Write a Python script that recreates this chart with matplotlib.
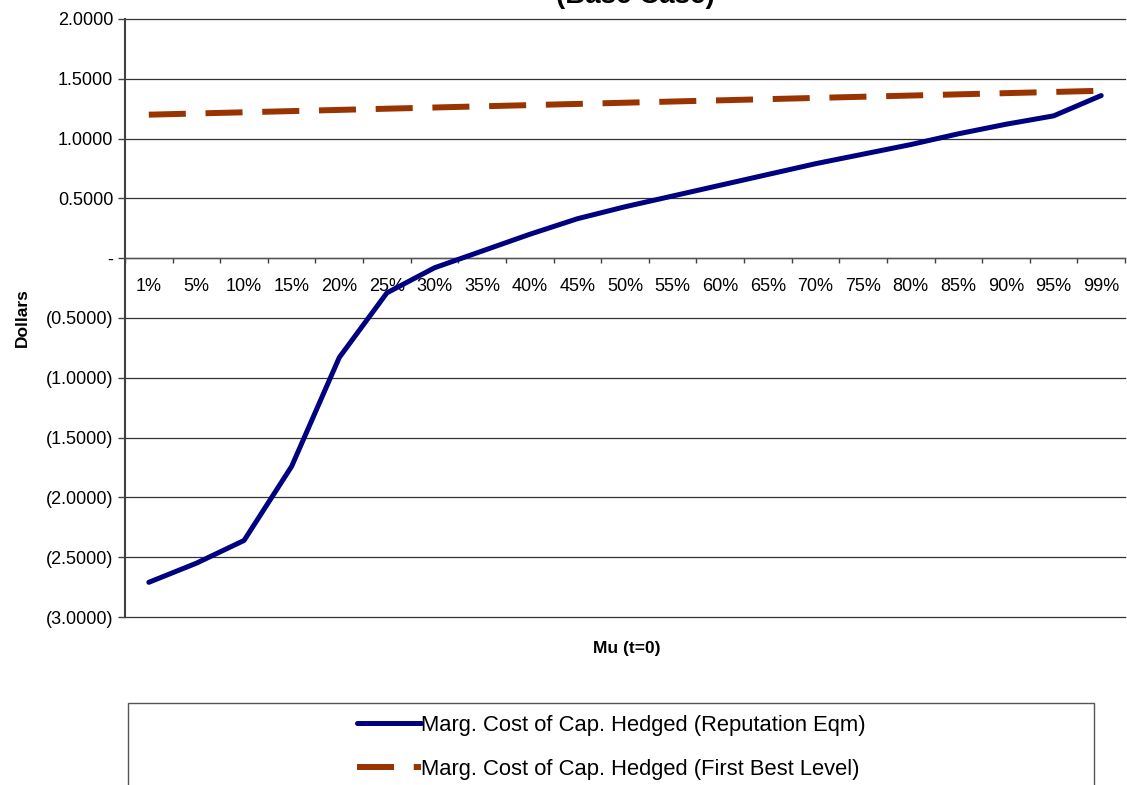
import numpy as np
import matplotlib.pyplot as plt
from matplotlib.ticker import FuncFormatter, FixedLocator
from matplotlib.patches import Rectangle

plt.rcParams['font.family'] = ['Liberation Sans', 'DejaVu Sans']

#%% data
mu_labels = ['1%', '5%', '10%', '15%', '20%', '25%', '30%', '35%', '40%', '45%', '50%',
             '55%', '60%', '65%', '70%', '75%', '80%', '85%', '90%', '95%', '99%']
cost_reputation = [-2.71, -2.55, -2.36, -1.74, -0.83, -0.29, -0.08, 0.06, 0.20, 0.33, 0.43,
                   0.52, 0.61, 0.70, 0.79, 0.87, 0.95, 1.04, 1.12, 1.19, 1.36]
cost_first_best = [1.20, 1.21, 1.22, 1.23, 1.24, 1.25, 1.26, 1.27, 1.28, 1.29, 1.30,
                   1.31, 1.32, 1.33, 1.34, 1.35, 1.36, 1.37, 1.38, 1.39, 1.40]
y_ticks = [2.0, 1.5, 1.0, 0.5, 0.0, -0.5, -1.0, -1.5, -2.0, -2.5, -3.0]

W, H = 1127, 785
fig = plt.figure(figsize=(W / 100, H / 100), dpi=100)
ax = fig.add_axes([125 / W, 1 - 617 / H, 1000 / W, 598 / H])

x = np.arange(len(mu_labels))
ax.plot(x, cost_reputation, color='#000080', lw=3.6, solid_capstyle='round',
        label='Marg. Cost of Cap. Hedged (Reputation Eqm)', zorder=4)
ln, = ax.plot(x, cost_first_best, color='#993300', lw=4.3, solid_capstyle='butt',
              label='Marg. Cost of Cap. Hedged (First Best Level)', zorder=3)
ln.set_dashes([6.2, 3.3])

ax.set_xlim(-0.5, len(mu_labels) - 0.5)
ax.set_ylim(-3.0, 2.0)

# accounting style y labels
def acct(v, pos):
    if abs(v) < 1e-9:
        return '-'
    if v < 0:
        return '({:.4f})'.format(-v)
    return '{:.4f}'.format(v)

ax.yaxis.set_major_locator(FixedLocator(y_ticks))
ax.yaxis.set_major_formatter(FuncFormatter(acct))
ax.tick_params(axis='y', direction='out', length=5, width=1, color='#404040',
               labelsize=13, pad=3.5)
ax.yaxis.grid(True, color='#333333', lw=0.9)
for gl in ax.get_ygridlines():
    gl.set_clip_on(False)
ax.set_axisbelow(True)

# category axis crosses at zero
ax.spines['bottom'].set_position(('data', 0))
ax.spines['bottom'].set_color('#555555')
ax.spines['bottom'].set_linewidth(1.0)
ax.spines['left'].set_color('#404040')
ax.spines['left'].set_linewidth(1.5)
ax.spines['top'].set_visible(False)
ax.spines['right'].set_visible(False)

ax.set_xticks(np.arange(-0.5, len(mu_labels), 1.0))
ax.set_xticklabels([])
ax.tick_params(axis='x', which='major', direction='out', length=3.6, width=1, color='#404040')
ax.set_xticks(x, minor=True)
ax.set_xticklabels(mu_labels, minor=True)
ax.tick_params(axis='x', which='minor', length=0, labelsize=13, pad=14.5)

ax.set_ylabel('Dollars', fontsize=12.5, fontweight='bold')
ax.yaxis.set_label_coords(-95 / 1000, (617 - 318) / 598)
fig.text(627 / W, 1 - 648 / H, 'Mu (t=0)', ha='center', va='center',
         fontsize=12.5, fontweight='bold')
fig.text(635 / W, 1 - 3 / H, '(Base Case)', ha='center', va='baseline',
         fontsize=20, fontweight='bold')

# legend box runs off the bottom of the figure
fig.patches.append(Rectangle((128 / W, -0.05), (1094 - 128) / W, 0.05 + 1 - 703 / H,
                             transform=fig.transFigure, fill=False,
                             edgecolor='#555555', lw=1.0))
fig.legend(loc='upper center', bbox_to_anchor=(611 / W, 1 - 704 / H), frameon=False,
           fontsize=15.8, handlelength=2.9, handletextpad=0.0, labelspacing=1.03,
           borderpad=0)

fig.savefig('out.png', dpi=100)
